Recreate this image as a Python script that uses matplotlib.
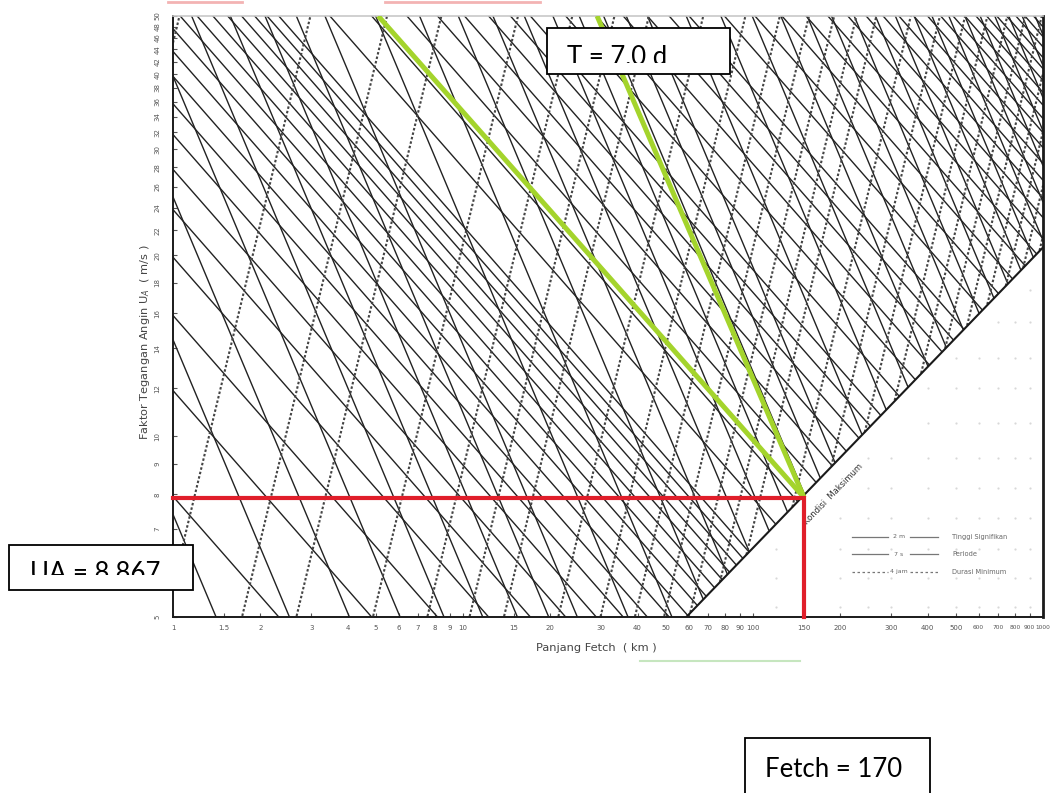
import numpy as np
import matplotlib
matplotlib.use("Agg")
import matplotlib.pyplot as plt
from matplotlib.patches import Rectangle
from matplotlib.lines import Line2D
from matplotlib.transforms import Bbox

# ---------------- data ----------------
X_TICKS = [1, 1.5, 2, 3, 4, 5, 6, 7, 8, 9, 10, 15, 20, 30, 40, 50, 60, 70, 80, 90,
           100, 150, 200, 300, 400, 500, 600, 700, 800, 900, 1000]
X_TICK_LABELS = ["1", "1.5", "2", "3", "4", "5", "6", "7", "8", "9", "10", "15", "20",
                 "30", "40", "50", "60", "70", "80", "90", "100", "150", "200", "300",
                 "400", "500", "600", "700", "800", "900", "1000"]
Y_TICKS = [5, 6, 7, 8, 9, 10, 12, 14, 16, 18, 20, 22, 24, 26, 28, 30, 32, 34, 36, 38,
           40, 42, 44, 46, 48, 50]
# the "6" label sits under the UA text box in the reference, so it is not shown
Y_TICK_LABELS = ["5", "", "7", "8", "9", "10", "12", "14", "16", "18", "20", "22",
                 "24", "26", "28", "30", "32", "34", "36", "38", "40", "42", "44",
                 "46", "48", "50"]

# wave-height lines (m), period lines (s), duration lines (hours)
HEIGHTS_M = [0.1, 0.15, 0.2, 0.25, 0.3, 0.35, 0.4, 0.45, 0.5, 0.55, 0.6, 0.65, 0.7,
             0.75, 0.8, 0.85, 0.9, 0.95, 1.0, 1.25, 1.5, 1.75, 2.0, 2.25, 2.5, 2.75,
             3.0, 3.5, 4.0, 4.5, 5.0, 5.5, 6.0, 7, 8, 9, 10, 11, 12, 13, 14, 15, 16,
             17, 18, 19, 20, 21, 22, 23, 24, 25, 26, 27, 28]
PERIODS_S = [1.0, 1.25, 1.5, 1.75, 2.0, 2.25, 2.5, 2.75, 3.0, 3.5, 4.0, 4.5, 5.0, 5.5,
             6.0, 6.5, 7.0, 7.5, 8.0, 9, 10, 11, 12, 13, 14, 15, 16, 17, 18, 19, 20,
             21, 22, 23, 24, 25, 26]
DURATIONS_H = [0.25, 0.5, 0.75, 1.0, 1.5, 2.0, 2.5, 3.0, 4.0, 5.0, 6.0, 7.0, 8.0, 9.0,
               10.0, 12.0, 14.0, 16.0, 18.0, 20.0, 22.0, 24.0, 26.0, 28.0, 30.0, 32.0]

# nomogram relations fitted to the reference (H ~ UA*F^0.55, T ~ UA^1/3*F^0.383,
# t ~ F^2/3 * UA^-1/3); F in km, UA in m/s
K_H, EXP_H = 0.0126, 0.55
K_T, EXP_T = 0.513, 0.383
K_D = 0.89

# fully developed ("Kondisi Maksimum") boundary
BOUNDARY_FETCH = [58.9, 1000.0]
BOUNDARY_UA = [5.0, 20.6]

# user's construction
FETCH_SEL = 150.0
UA_SEL = 7.9
GREEN_TOP_FETCH = [5.1, 29.0]
GREEN_TOP_UA = 50.0

# faint dot grid in the empty lower-right part
DOT_FETCH = [120, 150, 200, 250, 300, 400, 500, 600, 700, 800, 900]
DOT_UA = [5.2, 5.8, 6.5, 7.3, 8.2, 9.2, 10.5, 12, 13.5, 15.5, 17.5]

# ---------------- figure ----------------
W, H = 1057, 793
fig = plt.figure(figsize=(W / 100, H / 100), dpi=100)
fig.patch.set_facecolor("white")

def fx(px):
    return px / W

def fy(py):
    return 1 - py / H

AX_L, AX_R, AX_T, AX_B = 173, 1043, 16, 617
ax = fig.add_axes([fx(AX_L), fy(AX_B), fx(AX_R) - fx(AX_L), fy(AX_T) - fy(AX_B)])
ax.set_xscale("log")
ax.set_yscale("log")
ax.set_xlim(1, 1000)
ax.set_ylim(5, 50)

F = np.logspace(0, 3, 2500)
UA_bound = np.exp(np.interp(np.log(F), np.log(BOUNDARY_FETCH), np.log(BOUNDARY_UA)))

def draw_family(ua, **kw):
    ua = np.where(ua >= UA_bound * 0.999, ua, np.nan)
    ax.plot(F, ua, **kw)

solid_kw = dict(color="#222222", lw=1.0, zorder=2, solid_capstyle="butt")
dash_kw = dict(color="#444444", lw=1.5, ls=(0, (1.2, 1.0)), zorder=2)

for h in HEIGHTS_M:
    draw_family(h / (K_H * F ** EXP_H), **solid_kw)
for t in PERIODS_S:
    draw_family((t / (K_T * F ** EXP_T)) ** 3, **solid_kw)
for d in DURATIONS_H:
    draw_family((K_D * F ** (2 / 3) / d) ** 3, **dash_kw)

# boundary line
ax.plot(BOUNDARY_FETCH, BOUNDARY_UA, color="#1a1a1a", lw=1.5, zorder=3)
ax.text(189, 8.0, "Kondisi  Maksimum", rotation=46, fontsize=6, color="#333333",
        ha="center", va="center", zorder=3)

# faint dots below the boundary
dx, dy = np.meshgrid(DOT_FETCH, DOT_UA)
bound_d = np.exp(np.interp(np.log(dx), np.log(BOUNDARY_FETCH), np.log(BOUNDARY_UA)))
m = dy < bound_d * 0.93
ax.scatter(dx[m], dy[m], s=2.5, color="#d8d8d8", zorder=1, linewidths=0)

# construction lines
ax.plot([1, FETCH_SEL, FETCH_SEL], [UA_SEL, UA_SEL, 5], color="#e01e2a", lw=3.0,
        zorder=6, solid_joinstyle="miter", clip_on=False)
for ftop in GREEN_TOP_FETCH:
    ax.plot([FETCH_SEL, ftop], [UA_SEL, GREEN_TOP_UA], color="#a4d42c", lw=3.6,
            zorder=5, solid_capstyle="butt")

# axes styling
for side in ["left", "bottom", "right"]:
    ax.spines[side].set_color("#1a1a1a")
    ax.spines[side].set_linewidth(1.4)
ax.spines["right"].set_linewidth(2.0)
ax.spines["top"].set_color("#c8c8c8")
ax.spines["top"].set_linewidth(1.2)

ax.xaxis.set_minor_locator(matplotlib.ticker.NullLocator())
ax.yaxis.set_minor_locator(matplotlib.ticker.NullLocator())
ax.set_xticks(X_TICKS)
ax.set_xticklabels(X_TICK_LABELS)
ax.set_yticks(Y_TICKS)
ax.set_yticklabels(Y_TICK_LABELS, rotation=90, va="center")
ax.tick_params(axis="both", direction="in", length=3, width=0.8, color="#555555",
               labelsize=5, labelcolor="#555555")
ax.tick_params(axis="x", pad=6)
ax.tick_params(axis="y", pad=9)
# the crowded right-hand labels are smaller
for lab in ax.get_xticklabels()[-5:]:
    lab.set_fontsize(4.2)

ax.set_xlabel("Panjang Fetch  ( km )", fontsize=8.2, color="#444444", va="center")
ax.xaxis.set_label_coords((596 - AX_L) / (AX_R - AX_L), -(648 - AX_B) / (AX_B - AX_T))
ax.set_ylabel("Faktor Tegangan Angin U$_A$  ( m/s )", fontsize=8.2, color="#444444")
ax.yaxis.set_label_coords(-(AX_L - 152) / (AX_R - AX_L), (AX_B - 342) / (AX_B - AX_T))

# legend (drawn by hand like the original)
leg_rows = [(537, "2 m", "Tinggi Signifikan", "-"),
            (554, "7 s", "Periode", "-"),
            (572, "4 jam", "Durasi Minimum", (0, (2, 2)))]
for py, mid, name, ls in leg_rows:
    for x0, x1 in [(852, 888), (910, 938)]:
        fig.add_artist(Line2D([fx(x0), fx(x1)], [fy(py), fy(py)], color="#777777",
                              lw=0.9, ls=ls, transform=fig.transFigure, zorder=4))
    fig.text(fx(899), fy(py), mid, fontsize=4.5, color="#666666", ha="center",
             va="center", zorder=4)
    fig.text(fx(952), fy(py), name, fontsize=4.8, color="#666666", ha="left",
             va="center", zorder=4)

# scan artefacts at top / below the x label
for x0, x1 in [(168, 242), (385, 540)]:
    fig.add_artist(Line2D([fx(x0), fx(x1)], [fy(2), fy(2)], color="#f3b3b3", lw=2,
                          transform=fig.transFigure, zorder=1))
fig.add_artist(Line2D([fx(640), fx(800)], [fy(661), fy(661)], color="#c6e6bf", lw=1.5,
                      transform=fig.transFigure, zorder=1))

# overlay text boxes
def text_box(x0, y0, x1, y1, label, tx, ty, clip_y=None, size=18.5):
    fig.add_artist(Rectangle((fx(x0), fy(y1)), fx(x1) - fx(x0), fy(y0) - fy(y1),
                             transform=fig.transFigure, facecolor="white",
                             edgecolor="black", lw=1.3, zorder=10))
    t = fig.text(fx(tx), fy(ty), label, fontsize=size, family=["Lato", "DejaVu Sans"],
                 ha="left", va="baseline", color="black", zorder=11)
    if clip_y is not None:
        t.set_clip_box(Bbox.from_extents(x0, H - clip_y, x1, H - y0))
        t.set_clip_on(True)

text_box(547, 28, 730, 74, "T = 7.0 d", 567, 65, clip_y=63)
text_box(9, 545, 193, 590, "UA = 8.867", 30, 581, clip_y=575)
text_box(745, 738, 930, 800, "Fetch = 170", 765, 777)

fig.savefig("out.png", dpi=100)
